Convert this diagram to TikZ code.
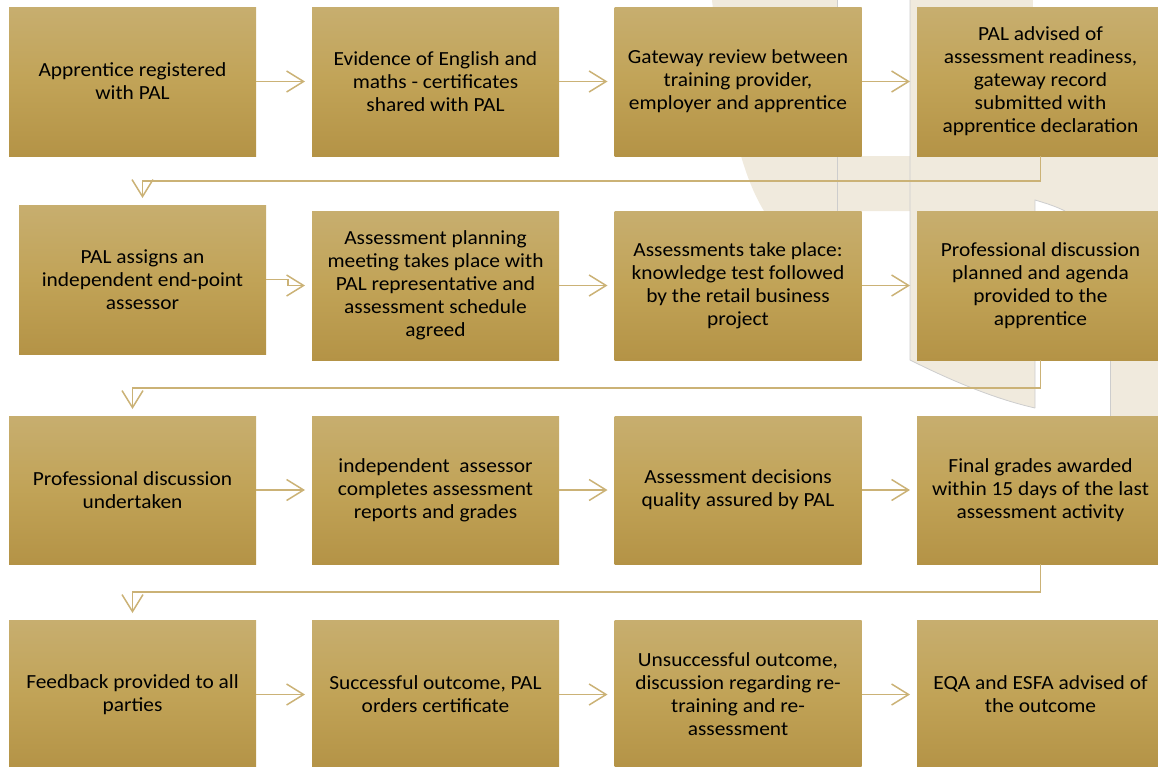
\documentclass[tikz,border=0pt]{standalone}
\usepackage{fontspec}
\setmainfont{Carlito}[FakeStretch=1.07]
\usepackage{tikz}
\usetikzlibrary{arrows.meta}
\definecolor{boxtop}{RGB}{199,174,111}
\definecolor{boxmid}{RGB}{193,163,87}
\definecolor{boxbottom}{RGB}{180,147,70}
\definecolor{linktan}{RGB}{203,178,118}
\definecolor{wash}{RGB}{240,234,221}
\definecolor{rulegray}{RGB}{205,205,205}

\begin{document}
\begin{tikzpicture}[x=1pt, y=-1pt,
    stage/.style={shade, top color=boxtop, bottom color=boxbottom, middle color=boxmid,
      minimum width=247pt, minimum height=149pt, inner sep=0pt, outer sep=0pt,
      align=center, font=\fontsize{20}{23}\selectfont},
    flow/.style={draw=linktan, line width=1.5pt, shorten >=7pt,
      arrows={-{Straight Barb[length=17pt, width=21pt]}}},
    rule/.style={draw=rulegray, line width=0.8pt}]
  \useasboundingbox (0,0) rectangle (1158,766);

  % Draw background watermark.
  \fill[wash] (712,0) .. controls (716,40) and (728,110) .. (741,156)
        .. controls (748,180) and (756,198) .. (764,211) -- (1158,211) -- (1158,0) -- cycle;
  \fill[white] (837,0) rectangle (910,7);
  \fill[white] (1033,0) rectangle (1158,7);
  \fill[white] (862,7) rectangle (910,156);
  \fill[wash] (910,211) -- (910,360) .. controls (960,385) and (1000,400) .. (1035,408)
        -- (1035,211) -- cycle;
  \fill[wash] (1110,211) rectangle (1158,416);
  \fill[white] (1035,211) -- (1035,200) .. controls (1045,203) and (1055,206) .. (1065,211) -- cycle;
  \draw[rule] (837,0) -- (837,211);
  \draw[rule] (910,0) -- (910,360) .. controls (960,385) and (1000,400) .. (1035,408);
  \draw[rule] (1035,408) -- (1035,200) .. controls (1045,203) and (1055,206) .. (1065,211);
  \draw[rule] (1110,360) -- (1110,416);

  % Draw first row.
  \node[stage] (registered) at (132.5,81.5) {Apprentice registered\\with PAL};
  \node[stage] (evidence) at (435.5,81.5) {Evidence of English and\\maths - certificates\\shared with PAL};
  \node[stage] (gateway) at (738,81.5) {Gateway review between\\training provider,\\employer and apprentice};
  \node[stage] (readiness) at (1040.5,81.5) {PAL advised of\\assessment readiness,\\gateway record\\submitted with\\apprentice declaration};

  % Draw second row.
  \node[stage] (assessor) at (142.5,279.5) {PAL assigns an\\independent end-point\\assessor};
  \node[stage] (planning) at (435.5,285.5) {Assessment planning\\meeting takes place with\\PAL representative and\\assessment schedule\\agreed};
  \node[stage] (knowledge) at (738,285.5) {Assessments take place:\\knowledge test followed\\by the retail business\\project};
  \node[stage] (agenda) at (1040.5,285.5) {Professional discussion\\planned and agenda\\provided to the\\apprentice};

  % Draw third row.
  \node[stage, minimum height=148pt] (discussion) at (132.5,490) {Professional discussion\\undertaken};
  \node[stage, minimum height=148pt] (reports) at (435.5,490) {independent\ \ assessor\\completes assessment\\reports and grades};
  \node[stage, minimum height=148pt] (quality) at (738,490) {Assessment decisions\\quality assured by PAL};
  \node[stage, minimum height=148pt] (grades) at (1040.5,490) {Final grades awarded\\within 15 days of the last\\assessment activity};

  % Draw fourth row.
  \node[stage] (feedback) at (132.5,694.5) {Feedback provided to all\\parties};
  \node[stage] (success) at (435.5,694.5) {Successful outcome, PAL\\orders certificate};
  \node[stage] (unsuccess) at (738,694.5) {Unsuccessful outcome,\\discussion regarding re-\\training and re-\\assessment};
  \node[stage] (eqa) at (1040.5,694.5) {EQA and ESFA advised of\\the outcome};

  % Draw arrows along the rows.
  \draw[flow] (registered) -- (evidence);
  \draw[flow] (evidence) -- (gateway);
  \draw[flow] (gateway) -- (readiness);
  \draw[flow] (assessor.east) -- ++(22,0) |- (planning.west);
  \draw[flow] (planning) -- (knowledge);
  \draw[flow] (knowledge) -- (agenda);
  \draw[flow] (discussion) -- (reports);
  \draw[flow] (reports) -- (quality);
  \draw[flow] (quality) -- (grades);
  \draw[flow] (feedback) -- (success);
  \draw[flow] (success) -- (unsuccess);
  \draw[flow] (unsuccess) -- (eqa);

  % Draw links between the rows.
  \draw[flow] (readiness.south) -- ++(0,25) -| (assessor.north);
  \draw[flow] (agenda.south) -- ++(0,28) -| (discussion.north);
  \draw[flow] (grades.south) -- ++(0,28) -| (feedback.north);
\end{tikzpicture}
\end{document}
